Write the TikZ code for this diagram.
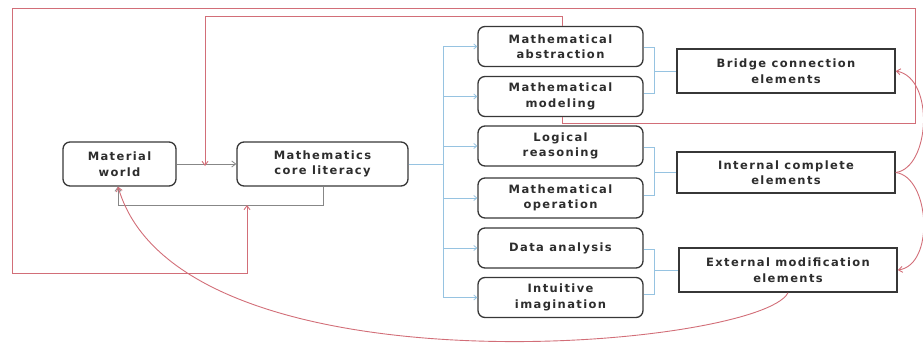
\documentclass[tikz,border=0pt]{standalone}
\usepackage{fontspec}
\setmainfont{DejaVu Sans}[LetterSpace=12]
\usetikzlibrary{arrows.meta}
\definecolor{redl}{RGB}{210,110,120}
\definecolor{bluel}{RGB}{150,195,225}
\definecolor{grayl}{RGB}{135,135,135}
\definecolor{boxc}{RGB}{55,55,55}
\definecolor{txt}{RGB}{45,45,45}
\tikzset{
  rbox/.style={draw=boxc, line width=1.3pt, rounded corners=7pt, align=center, inner sep=0pt,
    font=\fontsize{11.5}{15.5}\selectfont\bfseries, text=txt},
  sbox/.style={draw=boxc, line width=1.5pt, align=center, inner sep=0pt, minimum width=218pt,
    font=\fontsize{11.5}{15.5}\selectfont\bfseries, text=txt},
  rline/.style={draw=redl, line width=0.9pt},
  bline/.style={draw=bluel, line width=0.8pt},
  gline/.style={draw=grayl, line width=0.8pt},
  tip/.style={-{Straight Barb[length=4pt,width=6pt]}},
}
\begin{document}
\begin{tikzpicture}[x=1pt,y=-1pt]
\useasboundingbox (0,0) rectangle (923,345);
% left nodes
\node[rbox, minimum width=113pt, minimum height=44pt] (mw) at (119.5,164) {Material\\world};
\node[rbox, minimum width=171pt, minimum height=44pt] (cl) at (322.5,164) {Mathematics\\core literacy};
% six element boxes
\foreach \n/\y/\t in {abs/46.5/{Mathematical\\abstraction}, mod/96.5/{Mathematical\\modeling},
  log/146/{Logical\\reasoning}, op/198/{Mathematical\\operation}, dat/248/{Data analysis},
  imag/297.5/{Intuitive\\imagination}}{
  \node[rbox, minimum width=165pt, minimum height=40pt] (\n) at (560.5,\y) {\t};
}
% category boxes
\node[sbox, minimum height=44pt] (bri) at (786,71) {Bridge connection\\elements};
\node[sbox, minimum height=41pt] (inte) at (786,172.5) {Internal complete\\elements};
\node[sbox, minimum height=44pt] (ext) at (788,270) {External modification\\elements};

% gray main arrow and feedback
\draw[gline, tip] (mw) -- (cl);
\coordinate (j1) at (205,164);
\coordinate (fb1) at (323,205);
\coordinate (fb2) at (118,205);
\coordinate (j2) at (247,205);
\draw[gline, tip] (cl.south -| fb1) -- (fb1) -- (fb2) -- (mw.south -| fb2);

% blue tree
\coordinate (tr) at (443,164);
\draw[bline] (cl) -- (tr);
\draw[bline] (443,46.5) -- (443,297.5);
\foreach \n in {abs,mod,log,op,dat,imag}{
  \draw[bline, -{Straight Barb[length=3pt,width=5pt]}] (tr |- \n) -- (\n);
}
% brackets
\foreach \a/\b/\c in {abs/mod/bri, log/op/inte, dat/imag/ext}{
  \draw[bline] ([yshift=-1pt]\a.east) -- ++(11,0) |- ([yshift=3pt]\b.east);
  \path ([yshift=-1pt]\a.east) ++(11,0) coordinate (t1);
  \draw[bline] (t1 |- \c) -- (\c);
}

% red loops
\draw[rline, tip] (abs.north -| 562,0) -- (562,16) -- (205,16) -- ([yshift=-2pt]j1);
\draw[rline, tip] (mod.south -| 562,0) -- (562,123) -- (915,123) -- (915,8) -- (12,8) -- (12,273) -- (247,273) -- (j2);
\draw[rline, tip] (ext.south) .. controls (760,348) and (180,400) .. (mw.south -| fb2);
\draw[rline, tip] (inte.east) .. controls (930,168) and (935,78) .. (bri.east);
\draw[rline, tip] (inte.east) .. controls (930,177) and (935,265) .. (ext.east);
\end{tikzpicture}
\end{document}
